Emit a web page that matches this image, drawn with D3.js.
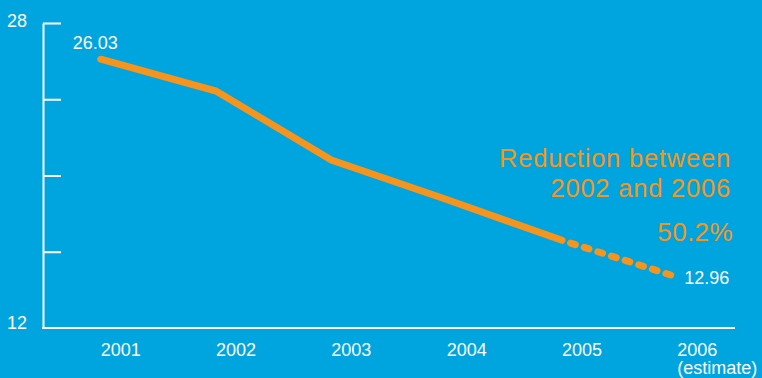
<!DOCTYPE html>
<html>
<head>
<meta charset="utf-8">
<script src="https://cdn.jsdelivr.net/npm/d3@7"></script>
<style>
  body { margin: 0; background: #00a4de; }
  svg { display: block; }
  text { font-family: "Liberation Sans", Arial, Helvetica, sans-serif; }
</style>
</head>
<body>
<div id="chart"></div>
<script>
const bg = '#00a4de';
const orange = '#f7941d';
const outerWidth = 762;
const outerHeight = 378;
const margin = {top: 23, right: 27, bottom: 50, left: 43};
const width = outerWidth - margin.left - margin.right;
const height = outerHeight - margin.top - margin.bottom;

// data
const years = ['2001', '2002', '2003', '2004', '2005', '2006'];
const yearNotes = ['', '', '', '', '', '(estimate)'];
const values = [26.1, 24.43, 20.81, 18.74, 16.6, 14.67];
const lastActual = 4; // 2005 – after this the line is an estimate
const yTicks = [12, 16, 20, 24, 28];
const yTickLabels = ['12', '', '', '', '28'];
const startLabel = '26.03';
const endLabel = '12.96';
const noteLines = ['Reduction between', '2002 and 2006'];
const noteValue = '50.2%';

const svg = d3.select('#chart').append('svg')
  .attr('width', outerWidth)
  .attr('height', outerHeight)
  .style('background', bg);

const g = svg.append('g')
  .attr('transform', `translate(${margin.left}, ${margin.top})`);

const x = d3.scalePoint()
  .domain(years)
  .range([0, width])
  .padding(0.5);

const y = d3.scaleLinear()
  .domain([12, 28])
  .range([height, 0]);

// y axis, ticks point inward
const yAxis = d3.axisLeft(y)
  .tickValues(yTicks)
  .tickSizeInner(-18)
  .tickSizeOuter(0)
  .tickPadding(16)
  .tickFormat((d, i) => yTickLabels[i]);

const gy = g.append('g').call(yAxis);
gy.select('.domain').attr('stroke', '#fff').attr('stroke-width', 2);
gy.selectAll('.tick line').attr('stroke', '#fff').attr('stroke-width', 2)
  .filter(d => d === 12).remove();
gy.selectAll('.tick text')
  .attr('fill', '#fff')
  .style('font-size', '18px')
  .attr('dy', d => d === 12 ? '0' : '0.22em');

// x axis: plain line, labels start at each point
g.append('line')
  .attr('x1', -1).attr('x2', width)
  .attr('y1', height).attr('y2', height)
  .attr('stroke', '#fff').attr('stroke-width', 2);

g.append('g').selectAll('text')
  .data(years)
  .join('text')
  .attr('x', d => x(d))
  .attr('y', height + 28)
  .attr('fill', '#fff')
  .style('font-size', '18px')
  .text(d => d);

g.append('g').selectAll('text')
  .data(yearNotes.filter(d => d))
  .join('text')
  .attr('x', (d) => x(years[yearNotes.indexOf(d)]))
  .attr('y', height + 46)
  .attr('fill', '#fff')
  .style('font-size', '18px')
  .text(d => d);

// line
const pts = years.map((d, i) => [x(d), y(values[i])]);
const line = d3.line();

g.append('path')
  .attr('d', line(pts.slice(lastActual)))
  .attr('fill', 'none')
  .attr('stroke', orange)
  .attr('stroke-width', 7)
  .attr('stroke-linecap', 'round')
  .attr('stroke-dasharray', '5 9.3')
  .attr('stroke-dashoffset', -9);

g.append('path')
  .attr('d', line(pts.slice(0, lastActual + 1)))
  .attr('fill', 'none')
  .attr('stroke', orange)
  .attr('stroke-width', 7)
  .attr('stroke-linecap', 'round');

// value labels
g.append('text')
  .attr('x', pts[0][0] - 28)
  .attr('y', pts[0][1] - 10)
  .attr('fill', '#fff')
  .style('font-size', '18px')
  .text(startLabel);

g.append('text')
  .attr('x', pts[5][0] + 7)
  .attr('y', pts[5][1] + 7)
  .attr('fill', '#fff')
  .style('font-size', '18px')
  .text(endLabel);

// annotation
g.append('g').selectAll('text')
  .data(noteLines)
  .join('text')
  .attr('x', 688)
  .attr('y', (d, i) => 144 + i * 30)
  .attr('text-anchor', 'end')
  .attr('fill', orange)
  .style('font-size', '25.5px')
  .style('letter-spacing', '0.8px')
  .text(d => d);

g.append('text')
  .attr('x', 690)
  .attr('y', 218)
  .attr('text-anchor', 'end')
  .attr('fill', orange)
  .style('font-size', '26px')
  .style('letter-spacing', '0.4px')
  .text(noteValue);
</script>
</body>
</html>
